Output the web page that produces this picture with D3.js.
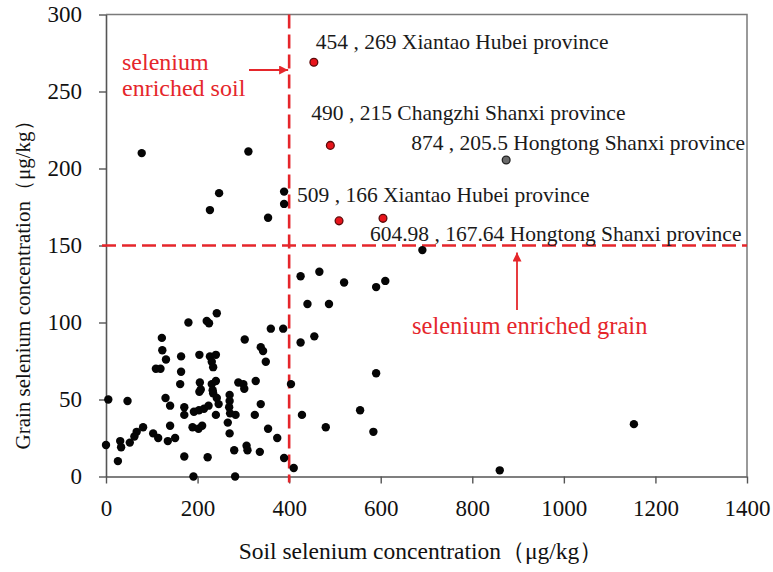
<!DOCTYPE html>
<html>
<head>
<meta charset="utf-8">
<script src="https://cdn.jsdelivr.net/npm/d3@7"></script>
<style>
  body { margin: 0; background: #fff; }
  text { font-family: "Liberation Serif", "Times New Roman", serif; }
</style>
</head>
<body>
<svg id="chart" width="773" height="572"></svg>
<script>
// Soil vs. grain selenium concentration of the sampled sites (µg/kg)
const soilSe = [
  78, 311, 247, 227, 354, 389, 389, 691,
  425, 466, 520, 590, 610, 440, 487, 387, 425, 455, 590, 404, 428, 555, 480, 584, 389, 410, 860, 1153,
  242, 220, 225, 180, 122, 123, 131, 109, 119, 164, 204, 227, 240, 231, 234, 164, 162, 205, 207, 204,
  231, 240, 233, 234, 242, 270, 270, 269, 289, 300, 302, 327, 338, 5, 47, 130, 140, 171, 171, 192,
  203, 214, 224, 246, 240, 271, 283, 266, 270, 325, 81, 67, 62, 52, 103, 114, 140, 135, 151, 0,
  31, 33, 26, 171, 189, 202, 210, 191, 222, 280, 307, 309, 336, 282, 354, 374, 303, 338, 343, 349, 360
];
const grainSe = [
  210, 211, 184, 173, 168, 185, 177, 147,
  130, 133, 126, 123, 127, 112, 112, 96, 87, 91, 67, 60, 40, 43, 32, 29, 12, 5.5, 4, 34,
  106, 101, 99.5, 100, 90, 82, 76, 70, 70, 78, 79, 78, 79, 74.5, 71, 68, 60, 61, 56.5, 55,
  60, 62, 56, 54, 51, 53, 49, 45, 61, 60, 57, 62, 47, 50, 49, 51, 46, 45, 40, 42,
  43, 44, 46, 47, 40, 41, 40, 35, 28, 40, 32, 29, 26, 22, 28, 25, 33, 23, 25, 20.5,
  23, 19, 10, 13, 32, 31, 33, 0, 12.5, 17, 20, 17, 16, 0, 31, 25, 89, 84, 81.5, 74.5, 96
];

// Annotated sites
const hlSoil  = [454, 490, 874, 509, 604.98];
const hlGrain = [269, 215, 205.5, 166, 167.64];
const hlPlace = ["Xiantao Hubei province", "Changzhi Shanxi province", "Hongtong Shanxi province",
                 "Xiantao Hubei province", "Hongtong Shanxi province"];
const hlKind  = ["enriched", "enriched", "other", "enriched", "enriched"];

const xTicks = [0, 200, 400, 600, 800, 1000, 1200, 1400];
const yTicks = [0, 50, 100, 150, 200, 250, 300];

const soilThreshold = 400;   // selenium enriched soil
const grainThreshold = 150;  // selenium enriched grain

// ---- layout ----
const plot = { left: 106, right: 747, top: 14.5, bottom: 476.5 };
const labelOffset = [[2, -13], [-19, -25], [-95, -10], [-42, -19], [-13, 23]];
const RED = "#e5262b";
const AXIS = "#555";
const SERIF = '"Liberation Serif", "Times New Roman", serif';

const svg = d3.select("#chart");
const x = d3.scaleLinear().domain([0, 1400]).range([plot.left, plot.right]);
const y = d3.scaleLinear().domain([0, 300]).range([plot.bottom, plot.top]);

// frame (top and right)
svg.append("path")
  .attr("d", `M${plot.left},${plot.top}H${plot.right}V${plot.bottom}`)
  .attr("fill", "none").attr("stroke", "#7a7a7a").attr("stroke-width", 1.5);

// axes
const xAxis = svg.append("g").attr("transform", `translate(0,${plot.bottom})`)
  .call(d3.axisBottom(x).tickValues(xTicks).tickFormat(d3.format("d"))
    .tickSize(7).tickSizeOuter(0).tickPadding(12));
const yAxis = svg.append("g").attr("transform", `translate(${plot.left},0)`)
  .call(d3.axisLeft(y).tickValues(yTicks).tickFormat(d3.format("d"))
    .tickSize(7).tickSizeOuter(0).tickPadding(17));
[xAxis, yAxis].forEach(g => {
  g.attr("font-family", SERIF);
  g.select(".domain").attr("stroke", AXIS).attr("stroke-width", 1.6);
  g.selectAll(".tick line").attr("stroke", AXIS).attr("stroke-width", 1.4);
  g.selectAll(".tick text").attr("fill", "#111").style("font-size", "23px");
});
xAxis.selectAll(".tick text").attr("dy", "0.9em");

// axis titles
svg.append("text").attr("x", 421).attr("y", 559).attr("text-anchor", "middle")
  .style("font-size", "23.5px").attr("fill", "#111")
  .text("Soil selenium concentration（μg/kg）");
svg.append("text").attr("transform", "translate(30,280) rotate(-90)")
  .attr("text-anchor", "middle").style("font-size", "21px").attr("fill", "#111")
  .text("Grain selenium concentration（μg/kg）");

// threshold lines
svg.append("line")
  .attr("x1", x(soilThreshold)).attr("x2", x(soilThreshold))
  .attr("y1", y(300)).attr("y2", y(0) + 6)
  .attr("stroke", RED).attr("stroke-width", 2.6).attr("stroke-dasharray", "14,6");
svg.append("line")
  .attr("x1", x(0) - 4).attr("x2", x(1400))
  .attr("y1", y(grainThreshold)).attr("y2", y(grainThreshold))
  .attr("stroke", RED).attr("stroke-width", 2.6).attr("stroke-dasharray", "14,6");

// sample points
svg.append("g").selectAll("circle")
  .data(d3.range(soilSe.length))
  .join("circle")
  .attr("cx", i => x(soilSe[i]))
  .attr("cy", i => y(grainSe[i]))
  .attr("r", 4.2)
  .attr("fill", "#050505");

// annotated sites
svg.append("g").selectAll("circle")
  .data(d3.range(hlSoil.length))
  .join("circle")
  .attr("cx", i => x(hlSoil[i]))
  .attr("cy", i => y(hlGrain[i]))
  .attr("r", 3.9)
  .attr("fill", i => hlKind[i] === "enriched" ? "#e8141b" : "#6a6a6a")
  .attr("stroke", i => hlKind[i] === "enriched" ? "#5a0b0b" : "#222")
  .attr("stroke-width", 1.3);

svg.append("g").selectAll("text")
  .data(d3.range(hlSoil.length))
  .join("text")
  .attr("x", i => x(hlSoil[i]) + labelOffset[i][0])
  .attr("y", i => y(hlGrain[i]) + labelOffset[i][1])
  .style("font-size", "21.5px").attr("fill", "#1a1a1a")
  .text(i => `${hlSoil[i]} , ${hlGrain[i]} ${hlPlace[i]}`);

// threshold annotations
svg.append("defs").append("marker")
  .attr("id", "arrow").attr("viewBox", "0 0 10 10").attr("refX", 10).attr("refY", 5)
  .attr("markerWidth", 5).attr("markerHeight", 5).attr("orient", "auto")
  .append("path").attr("d", "M0,0L10,5L0,10Z").attr("fill", RED);

const soilNote = svg.append("text").attr("fill", RED).style("font-size", "24px");
soilNote.append("tspan").attr("x", 122).attr("y", 70).text("selenium");
soilNote.append("tspan").attr("x", 122).attr("y", 96).text("enriched soil");
svg.append("line")
  .attr("x1", 249).attr("x2", x(soilThreshold) - 1)
  .attr("y1", 70).attr("y2", 70)
  .attr("stroke", RED).attr("stroke-width", 1.8).attr("marker-end", "url(#arrow)");

svg.append("text").attr("x", 412).attr("y", 334).attr("fill", RED)
  .style("font-size", "24.5px").text("selenium enriched grain");
svg.append("line")
  .attr("x1", 517).attr("x2", 517)
  .attr("y1", 310).attr("y2", y(grainThreshold) + 7)
  .attr("stroke", RED).attr("stroke-width", 1.8).attr("marker-end", "url(#arrow)");
</script>
</body>
</html>
